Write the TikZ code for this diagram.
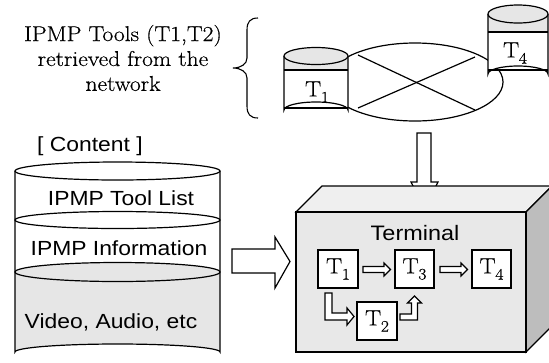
\documentclass[tikz,border=0pt]{standalone}
\usepackage{fontspec}
\setsansfont{Liberation Sans}[FakeStretch=1.12]
\newfontfamily\wideserif{Latin Modern Roman}[FakeStretch=1.1, FakeBold=0.5]
\newcommand\tsub[2]{T\kern-0.3pt\raisebox{-0.28em}{\fontsize{#2}{#2}\selectfont #1}}
\usetikzlibrary{shapes.geometric}
\begin{document}
\begin{tikzpicture}[x=1bp,y=-1bp,
  line width=1.2bp,
  serifbig/.style={font=\wideserif\fontsize{21.5}{25}\selectfont, align=center},
  sanslab/.style={font=\sffamily\fontsize{20.5}{24}\selectfont},
  tlab/.style={font=\wideserif\fontsize{22}{24}\selectfont},
  tbox/.style={draw, fill=white, minimum width=40bp, minimum height=38bp, inner sep=0pt, font=\wideserif\fontsize{22}{24}\selectfont},
  hollow/.style={draw, fill=white, line width=1.2bp, line join=miter}]
\definecolor{cylgray}{HTML}{E6E6E6}
\definecolor{frontgray}{HTML}{E8E8E8}
\definecolor{topgray}{HTML}{EFEFEF}
\definecolor{sidegray}{HTML}{BDBDBD}
\path[use as bounding box] (0,0) rectangle (549,362);
\clip (0,0) rectangle (549,362);

% ---- text and brace
\node[serifbig] (tooltext) at (123,58) {IPMP Tools (T1,T2)\\retrieved from the\\network};
\draw[line width=1.1bp] (258,18) .. controls (250,18) and (247,22) .. (247,30) -- (247,58)
  .. controls (247,64) and (241,68) .. (233,68) .. controls (241,68) and (247,72) .. (247,78)
  -- (247,106) .. controls (247,114) and (250,118) .. (258,118);

% ---- network ellipse
\node[draw, ellipse, minimum width=176bp, minimum height=78bp, inner sep=0pt] (net) at (415,82) {};
\coordinate (xa) at (358,55);
\coordinate (xb) at (475,110);
\coordinate (xc) at (358,108);
\coordinate (xd) at (475,57);
\draw (xa) -- (xb);
\draw (xc) -- (xd);

% ---- T1 cylinder
\fill[cylgray] (284,56) -- (284,110) arc[start angle=180, end angle=360, x radius=32bp, y radius=-8bp] -- (348,56) -- cycle;
\fill[white] (284,70) rectangle (348,108);
\draw (284,70) -- (348,70);
\draw (284,108) -- (348,108);
\draw (284,56) -- (284,110) arc[start angle=180, end angle=360, x radius=32bp, y radius=-8bp] -- (348,56);
\draw[fill=cylgray] (316,56) ellipse[x radius=32bp, y radius=8.5bp];
\node[tlab] (t1n) at (317,92) {\tsub{1}{16}};

% ---- T4 cylinder
\fill[cylgray] (488,14) -- (488,74) arc[start angle=180, end angle=360, x radius=30bp, y radius=-8bp] -- (548,14) -- cycle;
\fill[white] (488,32) rectangle (548,70);
\draw (488,32) -- (548,32);
\draw (488,70) -- (548,70);
\draw (488,14) -- (488,74) arc[start angle=180, end angle=360, x radius=30bp, y radius=-8bp] -- (548,14);
\draw[fill=cylgray] (518,14) ellipse[x radius=30bp, y radius=9bp];
\node[tlab] (t4n) at (515,53) {\tsub{4}{16}};

% ---- content cylinder
\fill[cylgray] (15,272) -- (15,352) arc[start angle=180, end angle=360, x radius=102.5bp, y radius=-8bp] -- (220,272) -- cycle;
\draw (15,171) -- (15,352) arc[start angle=180, end angle=360, x radius=102.5bp, y radius=-8bp] -- (220,171);
\draw[fill=white] (117.5,171) ellipse[x radius=102.5bp, y radius=9bp];
\draw (117.5,220) ellipse[x radius=102.5bp, y radius=8.5bp];
\draw[fill=cylgray] (117.5,272) ellipse[x radius=102.5bp, y radius=9.5bp];
\node[sanslab] (content) at (90,146) {[ Content ]};
\node[sanslab] (toollist) at (121,198) {IPMP Tool List};
\node[sanslab] (info) at (119,248) {IPMP Information};
\node[sanslab] (video) at (111,322) {Video, Audio, etc};

% ---- big arrows
\draw[hollow] (232,249) -- (275,249) -- (275,237) -- (290,261.5) -- (275,288) -- (275,273) -- (232,273) -- cycle;
\draw[hollow] (417,133) -- (431,133) -- (431,182) -- (438,182) -- (424.5,208) -- (411,182) -- (417,182) -- cycle;

% ---- terminal box
\draw[fill=topgray, line join=miter] (296,212) -- (322,186) -- (552,186) -- (526,212) -- cycle;
\draw[fill=sidegray, line join=miter] (526,212) -- (552,186) -- (552,326) -- (526,352) -- cycle;
\draw[fill=frontgray] (296,212) rectangle (526,352);
\node[sanslab, font=\sffamily\fontsize{21}{24}\selectfont] (terminal) at (415,233) {Terminal};

\node[tbox] (b1) at (338,269) {\tsub{1}{16}};
\node[tbox, minimum width=39bp] (b3) at (414.5,269) {\tsub{3}{16}};
\node[tbox, minimum width=39bp] (b4) at (491.5,269) {\tsub{4}{16}};
\node[tbox] (b2) at (377,321) {\tsub{2}{16}};

% small hollow arrows
\draw[hollow] (363,266.5) -- (384,266.5) -- (384,263) -- (390.5,269.5) -- (384,276) -- (384,272.5) -- (363,272.5) -- cycle;
\draw[hollow] (440,266.5) -- (461,266.5) -- (461,263) -- (467.5,269.5) -- (461,276) -- (461,272.5) -- (440,272.5) -- cycle;
\draw[hollow] (325,293) -- (332,293) -- (332,313) -- (347,313) -- (347,308) -- (354,316.5) -- (347,325) -- (347,320) -- (325,320) -- cycle;
\draw[hollow] (400,314) -- (411.5,314) -- (411.5,303) -- (407.5,303) -- (414.5,296) -- (421.5,303) -- (417.5,303) -- (417.5,320) -- (400,320) -- cycle;
\end{tikzpicture}
\end{document}
